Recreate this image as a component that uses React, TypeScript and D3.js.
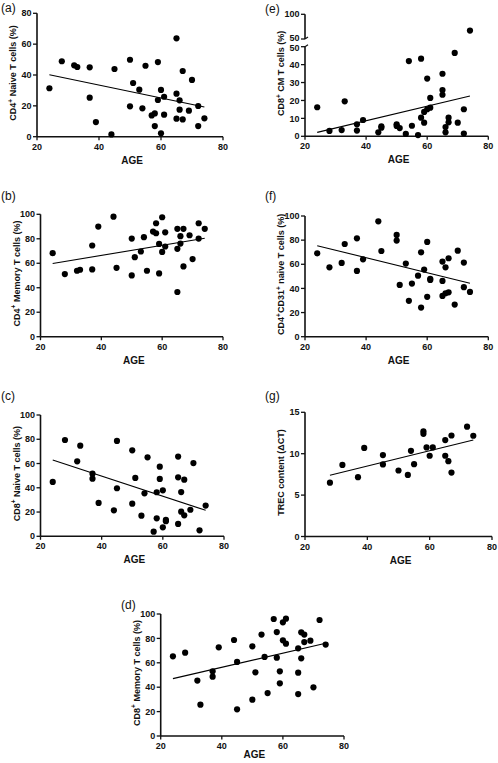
import React from "react";
import * as d3 from "d3";

// ---------- data ----------
const ageA = [24,28,32,33,37,37,39,44,45,50,50,51,53,54,55,57,58,58,59,59,60,60,61,61,65,65,65,66,66,67,67,69,70,72,72,74];
const valA = [31.4,48.9,46.3,45.2,45,25.3,9.5,1.5,43.9,49.9,19.7,34.8,30.5,18.4,46,13.8,15.1,6.9,48.4,23.8,30.3,2.2,25.9,14.3,63.8,27.9,11.7,23.6,17.5,42.6,11.2,16.9,36.8,19.9,6.9,11.9];
const fitA = [24, 40.2, 74, 19.2];

const ageB = [24,28,32,33,37,37,39,44,45,50,50,51,53,54,55,57,58,58,59,59,60,60,61,61,65,65,65,66,66,67,67,69,70,72,72,74];
const valB = [68.2,51.2,53.9,54.7,74.5,55,90,98.1,56.3,80.2,50.1,65,69.6,81.3,53.9,85.9,84.5,92.7,75.8,51.7,97.6,69.3,85.3,73.7,88.1,71.8,36.5,76.1,82.1,88.1,57.4,82.9,63.4,92.7,80.2,88.1];
const fitB = [24, 59.8, 74, 80.5];

const ageC = [24,28,32,33,37,37,39,44,45,45,50,50,51,53,54,55,57,58,58,59,59,60,60,61,61,65,65,65,66,66,67,67,69,70,72,74];
const valC = [44.8,79.4,61.8,74.7,51.6,47.5,27.5,21.4,78.6,39.6,70.9,26.9,48.1,17,35.4,65.1,3.8,14.8,36.3,57.4,47.3,37.9,7.4,13.5,12.5,65.7,48.6,10.2,36.5,20.3,46.7,17.3,21.9,60.4,4.9,25.3];
const fitC = [24, 62.9, 74, 21.4];

const ageD = [24,28,32,33,37,37,39,44,45,45,50,50,51,53,54,55,57,58,58,59,59,60,60,61,61,65,65,65,66,66,67,67,69,70,72,74];
const valD = [65.3,68.3,45.4,25.7,53,48.6,72.7,78.7,60.7,21.9,73.5,29.8,52.2,83.1,64.8,35.2,95.9,85.2,64.2,53,43.2,93.2,78.4,96.2,75.7,71.9,51.9,34.4,85,63.7,83.1,77,78.1,39.9,95.1,74.9];
const fitD = [24, 47, 74, 76];

const ageE = [24,28,32,33,37,37,39,44,45,45,50,50,51,53,54,55,57,58,58,59,59,60,60,61,61,65,65,65,66,66,67,67,69,70,72,72,74];
const valE = [16.2,3,3.5,19.5,6.7,3.2,9.1,2.2,5.6,4.8,6.7,5.8,4.6,1.3,42,5.9,0.7,43.3,10.4,7.6,13.6,32.2,15.1,16,21.4,34.9,25.8,23.2,5.2,2.2,10.4,7.8,46.5,7.6,15.1,1.5,67];
const fitE = [24, 2.2, 74, 22.5];

const ageF = [24,28,32,33,37,37,39,44,45,50,50,51,53,54,55,57,58,58,59,60,60,61,61,65,65,65,66,66,67,67,69,70,72,72,74];
const valF = [69.1,57.5,61.1,76.8,81.5,54.5,64.1,95.6,71,84.3,79.6,42.9,60.6,29.7,44,50.6,69.9,24.1,55.6,33,78.5,48,47,62.2,46.2,33.8,57.5,36,65,36.8,26.6,71.3,61.4,41,37.1];
const fitF = [24, 75.4, 74, 44.3];

const ageG = [28,32,37,39,45,45,50,53,54,55,58,58,59,60,61,65,65,66,67,67,72,74];
const valG = [6.5,8.65,7.16,10.7,9.83,8.7,7.97,7.44,10.35,8.73,12.7,12.4,10.76,9.75,10.76,11.65,9.75,9.1,12.2,7.72,13.26,12.17];
const fitG = [28, 7.4, 74, 11.65];

const xTicks = [20, 40, 60, 80];
const ticks80 = [0, 20, 40, 60, 80];
const ticks100 = [0, 20, 40, 60, 80, 100];
const ticksE = [0, 10, 20, 30, 40, 50];
const ticksEUpper = [50, 100];
const ticks15 = [0, 5, 10, 15];
const xLabel = "AGE";

const FONT = "'Liberation Sans', Arial, Helvetica, sans-serif";
const INK = "#111";

type Title = { parts: { t: string; sup?: boolean }[] };

const titleA: Title = { parts: [{ t: "CD4" }, { t: "+", sup: true }, { t: " Naive T cells (%)" }] };
const titleB: Title = { parts: [{ t: "CD4" }, { t: "+", sup: true }, { t: " Memory T cells (%)" }] };
const titleC: Title = { parts: [{ t: "CD8" }, { t: "+", sup: true }, { t: " Naive T cells (%)" }] };
const titleD: Title = { parts: [{ t: "CD8" }, { t: "+", sup: true }, { t: " Memory T cells (%)" }] };
const titleE: Title = { parts: [{ t: "CD8" }, { t: "+", sup: true }, { t: " CM T cells (%)" }] };
const titleF: Title = { parts: [{ t: "CD4" }, { t: "+", sup: true }, { t: "CD31" }, { t: "+", sup: true }, { t: " naive T cells (%)" }] };
const titleG: Title = { parts: [{ t: "TREC content (ΔCT)" }] };

type Cfg = {
  label: string; lx: number; ly: number;
  left: number; right: number; top: number; bottom: number;
  yMax: number; yTicks: number[];
  ages: number[]; vals: number[]; fit: number[];
  title: Title; ageDy: number;
  brk?: boolean;
};

const panels: Cfg[] = [
  { label: "(a)", lx: 1, ly: 11.5, left: 37, right: 223, top: 13.3, bottom: 136.7, yMax: 80, yTicks: ticks80, ages: ageA, vals: valA, fit: fitA, title: titleA, ageDy: 27 },
  { label: "(b)", lx: 1, ly: 199.5, left: 40.5, right: 223, top: 214.3, bottom: 336.7, yMax: 100, yTicks: ticks100, ages: ageB, vals: valB, fit: fitB, title: titleB, ageDy: 27 },
  { label: "(c)", lx: 1, ly: 399.5, left: 40.5, right: 224, top: 415, bottom: 536.3, yMax: 100, yTicks: ticks100, ages: ageC, vals: valC, fit: fitC, title: titleC, ageDy: 27 },
  { label: "(d)", lx: 121, ly: 608.5, left: 160.7, right: 344, top: 614, bottom: 736, yMax: 100, yTicks: ticks100, ages: ageD, vals: valD, fit: fitD, title: titleD, ageDy: 22 },
  { label: "(e)", lx: 265, ly: 12.5, left: 305, right: 488.3, top: 14.3, bottom: 136.3, yMax: 100, yTicks: ticksE, ages: ageE, vals: valE, fit: fitE, title: titleE, ageDy: 27, brk: true },
  { label: "(f)", lx: 265, ly: 199.5, left: 305, right: 488.3, top: 216, bottom: 336.7, yMax: 100, yTicks: ticks100, ages: ageF, vals: valF, fit: fitF, title: titleF, ageDy: 27 },
  { label: "(g)", lx: 265, ly: 399.5, left: 305, right: 492, top: 412.3, bottom: 536.5, yMax: 15, yTicks: ticks15, ages: ageG, vals: valG, fit: fitG, title: titleG, ageDy: 27 },
];

function TitleText({ title, x, y }: { title: Title; x: number; y: number }) {
  return (
    <text
      transform={`translate(${x},${y}) rotate(-90)`}
      textAnchor="middle"
      fontFamily={FONT}
      fontWeight="bold"
      fontSize={9}
      fill={INK}
    >
      {title.parts.map((p, i) =>
        p.sup ? (
          <tspan key={i} fontSize={6.5} dy={-3.5}>{p.t}</tspan>
        ) : (
          <tspan key={i} dy={i > 0 && title.parts[i - 1].sup ? 3.5 : 0}>{p.t}</tspan>
        )
      )}
    </text>
  );
}

function Panel({ c }: { c: Cfg }) {
  const x = d3.scaleLinear().domain([20, 80]).range([c.left, c.right]);
  const lowerTop = 46.7, upperBottom = 39;
  const yLow = c.brk
    ? d3.scaleLinear().domain([0, 50]).range([c.bottom, lowerTop])
    : d3.scaleLinear().domain([0, c.yMax]).range([c.bottom, c.top]);
  const yUp = d3.scaleLinear().domain([50, 100]).range([upperBottom, c.top]);
  const y = (v: number) => (c.brk && v > 50 ? yUp(v) : yLow(v));

  const line = d3.line<[number, number]>().x((d) => x(d[0])).y((d) => y(d[1]));
  const fitPath = line([[c.fit[0], c.fit[1]], [c.fit[2], c.fit[3]]]) || "";

  const tickLen = 4;
  const yTop = c.brk ? lowerTop : c.top;
  // small nudge of the two "50" labels at the axis break so they don't collide
  const lowNudge = (t: number) => (c.brk && t === 50 ? 1.6 : 0);
  const upNudge = (t: number) => (t === 50 ? -1.6 : 0);

  return (
    <g>
      <text x={c.lx} y={c.ly} fontFamily={FONT} fontSize={12} fill={INK}>{c.label}</text>

      {/* y axis */}
      <line x1={c.left} x2={c.left} y1={c.bottom} y2={yTop} stroke={INK} strokeWidth={1.6} />
      {c.yTicks.map((t) => (
        <g key={"y" + t}>
          <line x1={c.left - tickLen} x2={c.left} y1={yLow(t)} y2={yLow(t)} stroke={INK} strokeWidth={1.3} />
          <text x={c.left - 5.5} y={yLow(t) + lowNudge(t)} dy="0.35em" textAnchor="end" fontFamily={FONT} fontWeight="bold" fontSize={9} fill={INK}>{t}</text>
        </g>
      ))}
      {c.brk && (
        <g>
          <line x1={c.left} x2={c.left} y1={upperBottom} y2={c.top} stroke={INK} strokeWidth={1.6} />
          {ticksEUpper.map((t) => (
            <g key={"yu" + t}>
              <line x1={c.left - tickLen} x2={c.left} y1={yUp(t)} y2={yUp(t)} stroke={INK} strokeWidth={1.3} />
              <text x={c.left - 5.5} y={yUp(t) + upNudge(t)} dy="0.35em" textAnchor="end" fontFamily={FONT} fontWeight="bold" fontSize={9} fill={INK}>{t}</text>
            </g>
          ))}
          <line x1={c.left} x2={c.left + 3} y1={upperBottom} y2={upperBottom - 2} stroke={INK} strokeWidth={1.2} />
          <line x1={c.left} x2={c.left + 3} y1={lowerTop} y2={lowerTop - 2} stroke={INK} strokeWidth={1.2} />
        </g>
      )}

      {/* x axis */}
      <line x1={c.left} x2={c.right} y1={c.bottom} y2={c.bottom} stroke={INK} strokeWidth={1.6} />
      {xTicks.map((t) => (
        <g key={"x" + t}>
          <line x1={x(t)} x2={x(t)} y1={c.bottom} y2={c.bottom + 3.5} stroke={INK} strokeWidth={1.3} />
          <text x={x(t)} y={c.bottom + 13} textAnchor="middle" fontFamily={FONT} fontWeight="bold" fontSize={9} fill={INK}>{t}</text>
        </g>
      ))}
      <text x={(c.left + c.right) / 2 + 2} y={c.bottom + c.ageDy} textAnchor="middle" fontFamily={FONT} fontWeight="bold" fontSize={10} fill={INK}>{xLabel}</text>

      <TitleText title={c.title} x={c.left - 21} y={(c.top + c.bottom) / 2 - 2} />

      {/* points */}
      {c.ages.map((a, i) => (
        <circle key={i} cx={x(a)} cy={y(c.vals[i])} r={3.1} fill="#000" />
      ))}

      {/* regression */}
      <path d={fitPath} stroke="#000" strokeWidth={1.1} fill="none" />
    </g>
  );
}

export default function App() {
  return (
    <svg
      width={498}
      height={763}
      viewBox="0 0 498 763"
      style={{ position: "absolute", left: 0, top: 0, background: "#fff" }}
    >
      <rect x={0} y={0} width={498} height={763} fill="#fff" />
      {panels.map((p) => (
        <Panel key={p.label} c={p} />
      ))}
    </svg>
  );
}
